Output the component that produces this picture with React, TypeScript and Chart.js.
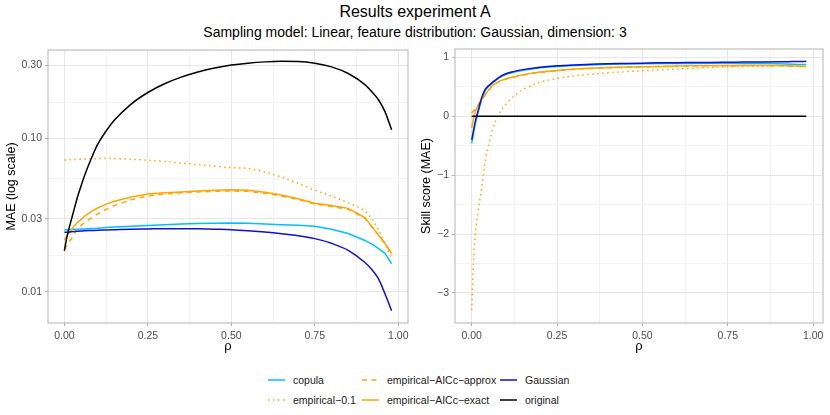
import React, { useEffect, useRef } from 'react'
import Chart from 'chart.js/auto'

// correlation values on the x axis
const rho = [
  0, 0.005, 0.01, 0.02, 0.03, 0.04, 0.05, 0.06, 0.08, 0.1, 0.125, 0.15, 0.2, 0.25, 0.3, 0.35,
  0.4, 0.45, 0.5, 0.55, 0.6, 0.65, 0.7, 0.75, 0.8, 0.85, 0.9, 0.92, 0.94, 0.96, 0.98,
]

// left panel: MAE (log scale)
const maeCopula = [
  0.0254, 0.0254, 0.0255, 0.0255, 0.0256, 0.0256, 0.0257, 0.0257, 0.0259, 0.026, 0.0262, 0.0264,
  0.0267, 0.027, 0.0274, 0.0277, 0.0279, 0.028, 0.0281, 0.028, 0.0277, 0.0274, 0.0271, 0.0267,
  0.0256, 0.024, 0.0216, 0.0205, 0.0192, 0.0178, 0.0152,
]
const maeEmp01 = [
  0.0724, 0.0725, 0.0726, 0.0728, 0.073, 0.0732, 0.0734, 0.0736, 0.0738, 0.074, 0.0741, 0.074,
  0.0733, 0.0722, 0.0708, 0.0692, 0.0675, 0.066, 0.0646, 0.0638, 0.0605, 0.056, 0.051, 0.046,
  0.042, 0.038, 0.0335, 0.03, 0.0255, 0.0205, 0.0166,
]
const maeApprox = [
  0.0188, 0.0196, 0.0205, 0.022, 0.024, 0.0258, 0.027, 0.0283, 0.0302, 0.0322, 0.0345, 0.0365,
  0.0398, 0.0422, 0.0434, 0.0442, 0.0448, 0.0452, 0.0455, 0.0452, 0.044, 0.0422, 0.04, 0.0374,
  0.036, 0.0345, 0.0302, 0.0266, 0.0234, 0.0206, 0.0178,
]
const maeExact = [
  0.0218, 0.0226, 0.0235, 0.025, 0.027, 0.0285, 0.0295, 0.031, 0.0333, 0.0352, 0.0373, 0.039,
  0.0415, 0.0435, 0.0443, 0.0448, 0.0455, 0.046, 0.0463, 0.046, 0.0446, 0.0428, 0.0405, 0.0378,
  0.0366, 0.035, 0.0305, 0.0268, 0.0235, 0.0207, 0.0177,
]
const maeGaussian = [
  0.0244, 0.0244, 0.0245, 0.0246, 0.0247, 0.0248, 0.0249, 0.025, 0.0251, 0.0252, 0.0253, 0.0254,
  0.0256, 0.0257, 0.0258, 0.0258, 0.0258, 0.0256, 0.0254, 0.025, 0.0245, 0.0239, 0.0232, 0.0222,
  0.0207, 0.0186, 0.0155, 0.014, 0.0122, 0.0097, 0.0075,
]
const maeOriginal = [
  0.0185, 0.0213, 0.024, 0.029, 0.035, 0.042, 0.049, 0.057, 0.0735, 0.092, 0.112, 0.132, 0.168,
  0.2, 0.228, 0.252, 0.272, 0.289, 0.302, 0.311, 0.317, 0.32, 0.319, 0.311, 0.294, 0.266, 0.225,
  0.203, 0.18, 0.15, 0.114,
]

// right panel: skill score (MAE)
const skillCopula = [
  -0.46, -0.3, -0.14, 0.09, 0.3, 0.44, 0.51, 0.56, 0.65, 0.71, 0.75, 0.78, 0.82, 0.845, 0.86, 0.87,
  0.88, 0.885, 0.89, 0.893, 0.895, 0.896, 0.897, 0.897, 0.895, 0.892, 0.888, 0.885, 0.882, 0.878,
  0.875,
]
const skillEmp01 = [
  -3.29, -2.5, -2.03, -1.57, -1.18, -0.75, -0.48, -0.25, 0.04, 0.2, 0.35, 0.45, 0.575, 0.64, 0.685,
  0.71, 0.735, 0.755, 0.77, 0.785, 0.8, 0.815, 0.83, 0.838, 0.845, 0.85, 0.855, 0.857, 0.858, 0.86,
  0.86,
]
const skillApprox = [
  0.05, 0.09, 0.12, 0.2, 0.28, 0.36, 0.44, 0.51, 0.585, 0.63, 0.665, 0.7, 0.745, 0.77, 0.795, 0.81,
  0.82, 0.83, 0.836, 0.842, 0.847, 0.852, 0.855, 0.857, 0.858, 0.858, 0.856, 0.853, 0.85, 0.845,
  0.842,
]
const skillExact = [
  -0.2, -0.05, 0.07, 0.2, 0.29, 0.37, 0.45, 0.52, 0.59, 0.635, 0.67, 0.705, 0.75, 0.775, 0.8, 0.815,
  0.825, 0.835, 0.84, 0.845, 0.85, 0.855, 0.858, 0.86, 0.862, 0.862, 0.86, 0.857, 0.853, 0.848,
  0.845,
]
const skillGaussian = [
  -0.4, -0.25, -0.1, 0.12, 0.33, 0.46, 0.52, 0.57, 0.66, 0.72, 0.76, 0.79, 0.83, 0.855, 0.87, 0.88,
  0.89, 0.895, 0.9, 0.905, 0.908, 0.91, 0.912, 0.915, 0.918, 0.92, 0.923, 0.925, 0.927, 0.928, 0.93,
]
const skillOriginal = [
  0, 0, 0, 0, 0, 0, 0, 0, 0, 0, 0, 0, 0, 0, 0, 0, 0, 0, 0, 0, 0, 0, 0, 0, 0, 0, 0, 0, 0, 0, 0,
]

// axis breaks
const rhoTicks = [0, 0.25, 0.5, 0.75, 1]
const rhoMinor = [0.125, 0.375, 0.625, 0.875]
const maeTicks = [0.01, 0.03, 0.1, 0.3]
const maeMinor = [0.01732, 0.05477, 0.1732]
const skillTicks = [-3, -2, -1, 0, 1]
const skillMinor = [-2.5, -1.5, -0.5, 0.5]

const FONT = "'Liberation Sans', Arial, Helvetica, sans-serif"

const series = [
  { label: 'copula', color: '#00BFFF', dash: [] as number[], smooth: false, mae: maeCopula, skill: skillCopula },
  { label: 'empirical\u22120.1', color: '#FFA500', dash: [1.5, 3.5], smooth: true, mae: maeEmp01, skill: skillEmp01 },
  { label: 'empirical\u2212AICc\u2212approx', color: '#FFA500', dash: [5, 4.5], smooth: false, mae: maeApprox, skill: skillApprox },
  { label: 'empirical\u2212AICc\u2212exact', color: '#FFA500', dash: [], smooth: false, mae: maeExact, skill: skillExact },
  { label: 'Gaussian', color: '#1010D0', dash: [], smooth: true, mae: maeGaussian, skill: skillGaussian },
  { label: 'original', color: '#000000', dash: [], smooth: true, mae: maeOriginal, skill: skillOriginal },
]

const panelBorder = {
  id: 'panelBorder',
  afterDatasetsDraw(chart: any) {
    const { ctx, chartArea: a } = chart
    ctx.save()
    ctx.strokeStyle = '#B3B3B3'
    ctx.lineWidth = 1
    ctx.strokeRect(a.left, a.top, a.right - a.left, a.bottom - a.top)
    ctx.restore()
  },
}

const mkTicks = (major: number[], minor: number[]) =>
  [...major.map((v) => ({ value: v })), ...minor.map((v) => ({ value: v, minor: true }))].sort(
    (a, b) => a.value - b.value,
  )

const gridOpts = {
  color: (c: any) => (c.tick && c.tick.minor ? '#F3F3F3' : '#E6E6E6'),
  lineWidth: 1,
  drawTicks: true,
  tickLength: 3,
  tickColor: (c: any) => (c.tick && c.tick.minor ? 'rgba(0,0,0,0)' : '#B3B3B3'),
  tickWidth: 1,
}

type PanelProps = {
  which: 'mae' | 'skill'
  left: number
  yWidth: number
  top: number
}

const Panel = ({ which, left, yWidth, top }: PanelProps) => {
  const ref = useRef<HTMLCanvasElement>(null)

  useEffect(() => {
    const isMae = which === 'mae'
    // reversed so that 'original' ends up drawn on top
    const datasets = [...series].reverse().map((s) => ({
      label: s.label,
      data: rho.map((r, i) => ({ x: r, y: isMae ? s.mae[i] : s.skill[i] })),
      borderColor: s.color,
      borderDash: s.dash,
      borderWidth: 1.5,
      pointRadius: 0,
      fill: false,
      cubicInterpolationMode: s.smooth ? 'monotone' : 'default',
      tension: 0,
    }))

    const yTickList = isMae ? mkTicks(maeTicks, maeMinor) : mkTicks(skillTicks, skillMinor)

    const chart = new Chart(ref.current!, {
      type: 'line',
      data: { datasets },
      plugins: [panelBorder],
      options: {
        animation: false,
        responsive: false,
        events: [],
        layout: { padding: { left: 0, top, right: 7, bottom: 0 } },
        plugins: { legend: { display: false }, tooltip: { enabled: false } },
        scales: {
          x: {
            type: 'linear',
            min: -0.049,
            max: 1.029,
            border: { display: false },
            grid: gridOpts as any,
            afterBuildTicks: (ax: any) => {
              ax.ticks = mkTicks(rhoTicks, rhoMinor)
            },
            afterFit: (ax: any) => {
              ax.height = 39
            },
            ticks: {
              autoSkip: false,
              maxRotation: 0,
              padding: 4,
              color: '#4D4D4D',
              font: { family: FONT, size: 10.5 },
              callback: (v: any, i: number, t: any[]) => (t[i].minor ? '' : Number(v).toFixed(2)),
            },
            title: {
              display: true,
              text: '\u03c1',
              color: '#000000',
              font: { family: FONT, size: 13 },
              padding: { top: 0, bottom: 8 },
            },
          },
          y: {
            type: isMae ? 'logarithmic' : 'linear',
            min: isMae ? 0.00624 : -3.51,
            max: isMae ? 0.379 : 1.14,
            border: { display: false },
            grid: gridOpts as any,
            afterBuildTicks: (ax: any) => {
              ax.ticks = yTickList.map((t) => ({ ...t }))
            },
            afterFit: (ax: any) => {
              ax.width = yWidth
            },
            ticks: {
              autoSkip: false,
              padding: 3,
              color: '#4D4D4D',
              font: { family: FONT, size: 10.5 },
              callback: (v: any, i: number, t: any[]) => {
                if (t[i].minor) return ''
                const n = Number(v)
                return isMae ? n.toFixed(2) : String(n).replace('-', '\u2212')
              },
            },
            title: {
              display: true,
              text: isMae ? 'MAE (log scale)' : 'Skill score (MAE)',
              color: '#000000',
              font: { family: FONT, size: 12.5 },
              padding: { top: 4, bottom: 0 },
            },
          },
        },
      } as any,
    })

    return () => {
      chart.destroy()
    }
  }, [])

  return (
    <canvas
      ref={ref}
      width={415}
      height={362}
      style={{ position: 'absolute', left, top: 0, width: 415, height: 362 }}
    />
  )
}

const legendCols = [
  ['copula', 'empirical\u22120.1'],
  ['empirical\u2212AICc\u2212approx', 'empirical\u2212AICc\u2212exact'],
  ['Gaussian', 'original'],
]
const colX = [268, 362, 500]
const rowY = [380, 399.5]

const Legend = () => (
  <>
    {legendCols.map((col, ci) =>
      col.map((name, ri) => {
        const s = series.find((d) => d.label === name)!
        return (
          <div
            key={name}
            style={{
              position: 'absolute',
              left: colX[ci],
              top: rowY[ri] - 8,
              height: 16,
              display: 'flex',
              alignItems: 'center',
              fontFamily: FONT,
              fontSize: 10.5,
              color: '#1A1A1A',
              whiteSpace: 'nowrap',
            }}
          >
            <svg width={17} height={4} style={{ marginRight: 8 }}>
              <line
                x1={0}
                y1={2}
                x2={17}
                y2={2}
                stroke={s.color}
                strokeWidth={1.5}
                strokeDasharray={s.dash.length ? s.dash.join(' ') : undefined}
              />
            </svg>
            <span>{name}</span>
          </div>
        )
      }),
    )}
  </>
)

export default function App() {
  return (
    <div
      style={{
        position: 'absolute',
        left: 0,
        top: 0,
        width: 830,
        height: 415,
        background: '#FFFFFF',
        overflow: 'hidden',
      }}
    >
      <div
        style={{
          position: 'absolute',
          left: 0,
          top: 1,
          width: 830,
          textAlign: 'center',
          fontFamily: FONT,
          color: '#000000',
        }}
      >
        <div style={{ fontSize: 16, lineHeight: '21px' }}>Results experiment A</div>
        <div style={{ fontSize: 14, lineHeight: '21px' }}>
          Sampling model: Linear, feature distribution: Gaussian, dimension: 3
        </div>
      </div>
      <Panel which="mae" left={0} yWidth={48} top={50} />
      <Panel which="skill" left={415} yWidth={40} top={49} />
      <Legend />
    </div>
  )
}
